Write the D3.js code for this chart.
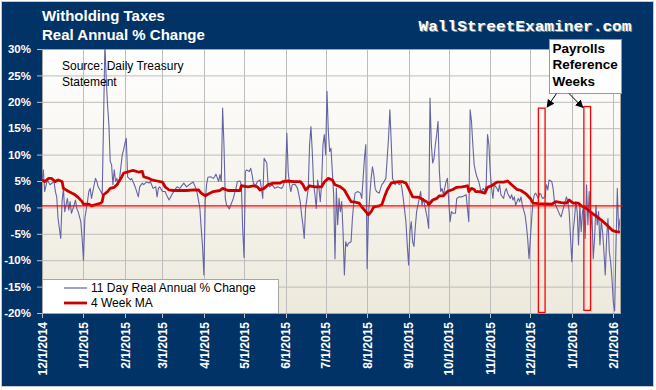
<!DOCTYPE html>
<html lang="en">
<head>
<meta charset="UTF-8">
<title>Witholding Taxes</title>
<script src="https://d3js.org/d3.v7.min.js"></script>
<style>
  body { margin: 0; background: #fff; }
  svg text { font-family: Arial, "Liberation Sans", sans-serif; }
</style>
</head>
<body>
<svg width="656" height="390"></svg>
<script>
// 11 day real annual % change (daily)
const dailyDates = [
  '12/1/2014','12/2/2014','12/3/2014','12/5/2014','12/7/2014','12/10/2014','12/11/2014','12/12/2014','12/13/2014','12/15/2014',
  '12/16/2014','12/17/2014','12/18/2014','12/20/2014','12/21/2014','12/22/2014','12/23/2014','12/25/2014','12/26/2014','12/27/2014',
  '12/28/2014','12/30/2014','12/31/2014','1/1/2015','1/2/2015','1/3/2015','1/4/2015','1/5/2015','1/6/2015','1/7/2015',
  '1/9/2015','1/10/2015','1/11/2015','1/12/2015','1/14/2015','1/15/2015','1/16/2015','1/17/2015','1/18/2015','1/19/2015',
  '1/20/2015','1/21/2015','1/22/2015','1/23/2015','1/24/2015','1/25/2015','1/26/2015','1/27/2015','1/28/2015','1/30/2015',
  '1/31/2015','2/1/2015','2/2/2015','2/3/2015','2/5/2015','2/6/2015','2/8/2015','2/9/2015','2/11/2015','2/12/2015',
  '2/14/2015','2/15/2015','2/17/2015','2/19/2015','2/20/2015','2/22/2015','2/24/2015','2/25/2015','2/26/2015','2/27/2015',
  '3/1/2015','3/3/2015','3/4/2015','3/6/2015','3/8/2015','3/11/2015','3/12/2015','3/14/2015','3/17/2015','3/19/2015',
  '3/21/2015','3/24/2015','3/26/2015','3/27/2015','3/29/2015','3/30/2015','3/31/2015','4/1/2015','4/2/2015','4/3/2015',
  '4/4/2015','4/6/2015','4/8/2015','4/9/2015','4/10/2015','4/12/2015','4/13/2015','4/14/2015','4/15/2015','4/16/2015',
  '4/17/2015','4/18/2015','4/19/2015','4/20/2015','4/21/2015','4/23/2015','4/24/2015','4/25/2015','4/26/2015','4/28/2015',
  '4/29/2015','4/30/2015','5/1/2015','5/2/2015','5/3/2015','5/5/2015','5/6/2015','5/7/2015','5/8/2015','5/9/2015',
  '5/10/2015','5/11/2015','5/13/2015','5/14/2015','5/15/2015','5/16/2015','5/18/2015','5/19/2015','5/20/2015','5/22/2015',
  '5/24/2015','5/26/2015','5/29/2015','5/30/2015','6/1/2015','6/2/2015','6/3/2015','6/4/2015','6/5/2015','6/6/2015',
  '6/8/2015','6/10/2015','6/12/2015','6/13/2015','6/14/2015','6/15/2015','6/16/2015','6/18/2015','6/19/2015','6/20/2015',
  '6/21/2015','6/22/2015','6/23/2015','6/24/2015','6/25/2015','6/26/2015','6/27/2015','6/28/2015','6/29/2015','6/30/2015',
  '7/1/2015','7/2/2015','7/3/2015','7/4/2015','7/5/2015','7/6/2015','7/7/2015','7/8/2015','7/9/2015','7/10/2015',
  '7/11/2015','7/12/2015','7/13/2015','7/14/2015','7/15/2015','7/16/2015','7/17/2015','7/18/2015','7/20/2015','7/21/2015',
  '7/22/2015','7/23/2015','7/25/2015','7/27/2015','7/28/2015','7/29/2015','7/30/2015','7/31/2015','8/1/2015','8/2/2015',
  '8/3/2015','8/4/2015','8/5/2015','8/6/2015','8/7/2015','8/8/2015','8/10/2015','8/12/2015','8/13/2015','8/15/2015',
  '8/16/2015','8/17/2015','8/18/2015','8/19/2015','8/20/2015','8/21/2015','8/22/2015','8/23/2015','8/25/2015','8/26/2015',
  '8/27/2015','8/28/2015','8/30/2015','8/31/2015','9/1/2015','9/2/2015','9/3/2015','9/4/2015','9/5/2015','9/6/2015',
  '9/7/2015','9/9/2015','9/10/2015','9/11/2015','9/12/2015','9/14/2015','9/15/2015','9/16/2015','9/17/2015','9/18/2015',
  '9/19/2015','9/20/2015','9/21/2015','9/22/2015','9/23/2015','9/24/2015','9/25/2015','9/26/2015','9/27/2015','9/29/2015',
  '9/30/2015','10/1/2015','10/2/2015','10/3/2015','10/4/2015','10/6/2015','10/7/2015','10/9/2015','10/11/2015','10/14/2015',
  '10/15/2015','10/16/2015','10/17/2015','10/18/2015','10/19/2015','10/20/2015','10/21/2015','10/22/2015','10/23/2015','10/24/2015',
  '10/25/2015','10/27/2015','10/28/2015','10/29/2015','10/30/2015','10/31/2015','11/1/2015','11/2/2015','11/3/2015','11/4/2015',
  '11/6/2015','11/7/2015','11/8/2015','11/9/2015','11/11/2015','11/12/2015','11/13/2015','11/14/2015','11/16/2015','11/17/2015',
  '11/18/2015','11/19/2015','11/20/2015','11/22/2015','11/23/2015','11/24/2015','11/25/2015','11/27/2015','11/28/2015','11/29/2015',
  '11/30/2015','12/2/2015','12/3/2015','12/4/2015','12/5/2015','12/7/2015','12/8/2015','12/9/2015','12/10/2015','12/12/2015',
  '12/13/2015','12/14/2015','12/15/2015','12/17/2015','12/18/2015','12/19/2015','12/20/2015','12/22/2015','12/23/2015','12/24/2015',
  '12/25/2015','12/27/2015','12/28/2015','12/29/2015','12/30/2015','1/1/2016','1/2/2016','1/3/2016','1/4/2016','1/5/2016',
  '1/6/2016','1/7/2016','1/8/2016','1/9/2016','1/10/2016','1/11/2016','1/12/2016','1/13/2016','1/14/2016','1/15/2016',
  '1/16/2016','1/17/2016','1/18/2016','1/19/2016','1/20/2016','1/21/2016','1/22/2016','1/23/2016','1/24/2016','1/25/2016',
  '1/26/2016','1/27/2016','1/28/2016','1/29/2016','1/30/2016','1/31/2016','2/1/2016','2/2/2016','2/3/2016','2/4/2016',
  '2/5/2016','2/6/2016'
];
const dailyValues = [
  4.9, 7.1, 3.0, 5.2, 4.3, 4.9, 3.0, 2.0, -2.1, -5.9,
  1.1, 3.6, -0.8, 1.7, -0.5, 1.1, -1.1, 0.4, 1.4, -0.2,
  -0.8, -2.7, -5.9, -10.0, -2.1, -0.5, 1.1, 3.0, 3.6, 1.7,
  4.3, 5.5, 4.9, 3.9, 3.0, 2.4, 16.3, 31.0, 24.4, 19.4,
  15.6, 8.7, 8.1, 4.3, 7.1, 4.9, 5.5, 4.3, 5.5, 10.0,
  10.9, 12.2, 13.1, 5.8, 5.2, 5.5, 4.3, 3.6, 2.0, 3.9,
  4.6, 4.3, 4.8, 4.6, 4.9, 3.6, 3.9, 2.0, 3.6, 3.9,
  3.0, 3.0, 2.4, 1.4, 2.4, 3.6, 3.9, 3.6, 4.6, 3.9,
  4.3, 4.8, 3.6, 2.7, -0.2, -4.0, -7.4, -12.8, 1.1, 4.3,
  5.7, 5.8, 5.5, 5.8, 6.3, 4.9, 6.2, 4.9, 18.8, 11.9,
  1.7, 0.4, 0.1, -0.3, 0.4, 1.7, 2.7, 3.6, 4.9, 5.0,
  4.3, -4.0, -9.5, 6.8, 7.1, 6.8, 7.4, 6.2, 4.6, 4.3,
  4.3, 4.9, 5.2, 3.6, 1.7, 9.3, 8.4, 4.3, 3.9, 4.3,
  3.6, 3.9, 3.6, 3.9, 5.5, 14.1, 6.8, 4.3, 3.0, 4.3,
  4.4, 3.6, 1.1, -1.4, -3.3, -5.9, -0.2, 3.6, 11.9, 15.3,
  10.6, 4.3, 2.4, -0.2, 5.2, 3.6, 1.1, 4.6, 11.9, 13.8,
  10.0, 22.0, 14.4, 10.6, 11.2, 6.8, 2.4, -9.7, 3.6, -3.3,
  1.7, -0.8, 1.1, -4.6, -12.8, -6.5, -7.4, -6.8, -6.5, -2.1,
  0.8, 2.7, 3.0, 2.7, 1.7, 5.5, 9.3, 11.9, -11.6, -1.4,
  2.4, 5.5, 7.7, 6.2, 3.6, 3.0, 2.7, 4.3, 4.6, 5.5,
  9.3, 13.1, 18.5, 12.5, 5.5, 4.9, 4.3, 4.9, 4.3, 4.9,
  3.6, 1.7, -2.7, -7.1, -10.9, -4.6, -2.7, -6.5, -7.4, -3.7,
  -0.8, 1.7, 3.0, 0.4, 1.7, -0.8, -2.1, -4.0, 20.7, 11.9,
  8.4, 9.3, 11.9, 13.8, 16.3, 6.8, 3.0, 3.6, 2.4, 4.9,
  5.5, 1.1, -2.7, -0.8, -1.1, -1.1, 1.7, 2.0, 2.0, 2.4,
  -0.2, -2.7, 18.5, 16.3, 11.9, 8.1, 6.8, 5.8, 5.2, 4.3,
  3.0, 3.6, 3.0, 4.3, 13.8, 11.9, 6.8, 3.6, 1.7, 4.3,
  3.6, 3.0, 4.3, 2.4, 1.7, 3.0, 3.6, 2.7, 1.7, 2.4,
  1.4, 2.0, 0.4, 1.7, 1.1, 2.0, 0.4, -1.4, -3.3, -5.9,
  -9.7, -2.1, 1.1, 2.4, 2.7, 1.7, 2.7, 2.4, 1.7, 2.0,
  4.3, 3.3, 5.2, 4.9, 3.6, 1.1, 0.4, -0.8, -1.4, -1.8,
  -0.8, 1.1, 2.0, 1.1, -0.8, -10.3, -4.6, -2.1, 1.1, -0.8,
  -7.1, 0.4, -4.6, -0.8, 0.4, -5.9, 4.3, -3.3, 3.0, -4.6,
  -0.8, -9.7, -5.9, 0.4, -3.3, -0.8, -7.1, -2.7, -4.6, -8.4,
  -12.8, -5.9, -2.1, -8.4, -10.3, -13.5, -17.9, -19.6, -7.1, 3.6,
  -4.6, -2.1
];

// 4 week moving average
const maDates = [
  '12/1/2014','12/3/2014','12/6/2014','12/8/2014','12/11/2014','12/13/2014','12/16/2014','12/17/2014','12/21/2014','12/25/2014',
  '12/28/2014','12/31/2014','1/1/2015','1/5/2015','1/7/2015','1/11/2015','1/14/2015','1/15/2015','1/16/2015','1/19/2015',
  '1/21/2015','1/24/2015','1/26/2015','1/29/2015','1/31/2015','2/4/2015','2/7/2015','2/11/2015','2/14/2015','2/15/2015',
  '2/19/2015','2/21/2015','2/25/2015','3/1/2015','3/3/2015','3/6/2015','3/9/2015','3/19/2015','3/25/2015','3/28/2015',
  '3/30/2015','4/2/2015','4/4/2015','4/8/2015','4/13/2015','4/15/2015','4/19/2015','4/28/2015','4/29/2015','5/4/2015',
  '5/8/2015','5/11/2015','5/13/2015','5/16/2015','5/19/2015','5/23/2015','5/28/2015','5/30/2015','6/3/2015','6/7/2015',
  '6/12/2015','6/14/2015','6/16/2015','6/19/2015','6/23/2015','6/28/2015','6/30/2015','7/3/2015','7/6/2015','7/8/2015',
  '7/12/2015','7/15/2015','7/17/2015','7/20/2015','7/23/2015','7/26/2015','7/28/2015','7/31/2015','8/2/2015','8/4/2015',
  '8/6/2015','8/10/2015','8/12/2015','8/14/2015','8/16/2015','8/19/2015','8/22/2015','8/25/2015','8/27/2015','8/30/2015',
  '9/1/2015','9/4/2015','9/9/2015','9/12/2015','9/15/2015','9/16/2015','9/19/2015','9/22/2015','9/24/2015','9/27/2015',
  '9/30/2015','10/4/2015','10/7/2015','10/11/2015','10/15/2015','10/16/2015','10/18/2015','10/20/2015','10/21/2015','10/24/2015',
  '10/28/2015','10/30/2015','11/2/2015','11/6/2015','11/11/2015','11/14/2015','11/17/2015','11/21/2015','11/24/2015','11/28/2015',
  '12/1/2015','12/3/2015','12/7/2015','12/17/2015','12/20/2015','12/24/2015','12/28/2015','12/30/2015','1/2/2016','1/6/2016',
  '1/8/2016','1/12/2016','1/16/2016','1/19/2016','1/23/2016','1/27/2016','1/31/2016','2/3/2016','2/6/2016'
];
const maValues = [
  5.2, 4.9, 5.5, 5.5, 4.9, 5.2, 4.9, 3.6, 3.0, 2.5,
  1.9, 1.1, 0.6, 0.6, 0.3, 0.6, 0.8, 1.1, 2.4, 3.0,
  3.6, 3.8, 4.3, 5.5, 6.5, 6.8, 7.0, 6.7, 6.8, 5.8,
  5.5, 5.2, 5.0, 4.8, 3.9, 3.3, 3.2, 3.2, 3.3, 3.3,
  2.7, 2.2, 2.5, 3.0, 3.2, 3.6, 3.2, 3.2, 4.1, 3.9,
  4.1, 3.9, 3.3, 3.6, 4.3, 4.6, 4.6, 4.9, 5.0, 4.9,
  4.9, 4.3, 3.3, 4.1, 3.9, 3.9, 4.8, 5.5, 5.2, 4.3,
  3.9, 3.3, 2.4, 1.1, 1.0, 0.8, 0.1, -0.8, -1.4, -0.8,
  0.1, 0.3, 0.5, 2.0, 3.3, 4.6, 4.8, 4.9, 4.9, 4.6,
  3.6, 2.0, 1.9, 1.4, 1.0, 0.5, 1.4, 1.7, 2.2, 2.2,
  3.0, 3.4, 3.8, 3.9, 4.1, 3.0, 3.6, 3.4, 3.0, 3.0,
  2.7, 3.8, 4.1, 4.8, 4.8, 5.0, 4.3, 3.4, 3.2, 2.5,
  1.7, 0.8, 0.7, 0.6, 1.1, 0.9, 0.8, 1.4, 0.8, 0.8,
  0.3, -0.2, -1.1, -1.6, -2.4, -3.3, -4.3, -4.6, -4.7
];

const dateRange = ['12/1/2014', '2/6/2016'];
const monthTicks = ['12/1/2014','1/1/2015','2/1/2015','3/1/2015','4/1/2015','5/1/2015','6/1/2015','7/1/2015',
  '8/1/2015','9/1/2015','10/1/2015','11/1/2015','12/1/2015','1/1/2016','2/1/2016'];
const yTicks = [30, 25, 20, 15, 10, 5, 0, -5, -10, -15, -20];

// payrolls reference weeks (highlight boxes)
const refWeekStart = ['12/7/2015', '1/10/2016'];
const refWeekEnd = ['12/12/2015', '1/15/2016'];
const refWeekTop = [18.8, 19.1];
const refWeekBottom = [-19.9, -19.5];

const titleLines = ['Witholding Taxes', 'Real Annual % Change'];
const sourceLines = ['Source: Daily Treasury', 'Statement'];
const seriesNames = ['11 Day Real Annual % Change', '4 Week MA'];
const calloutLines = ['Payrolls', 'Reference', 'Weeks'];
const siteName = 'WallStreetExaminer.com';

const navy = '#023366';
const blueLine = '#6464a4';
const redLine = '#cc0000';

const parse = d3.timeParse('%m/%d/%Y');
const daily = dailyDates.map((d, i) => ({ date: parse(d), value: dailyValues[i] }));
const ma = maDates.map((d, i) => ({ date: parse(d), value: maValues[i] }));

const svg = d3.select('svg');
const width = +svg.attr('width');
const height = +svg.attr('height');
const plot = { left: 42, right: 620, top: 49, bottom: 313 };

const x = d3.scaleTime()
  .domain(dateRange.map(parse))
  .range([plot.left, plot.right]);
const y = d3.scaleLinear()
  .domain([-20, 30])
  .range([plot.bottom, plot.top]);

// background frame
svg.append('rect')
  .attr('x', 1.5).attr('y', 1.5)
  .attr('width', width - 4).attr('height', height - 5)
  .attr('fill', navy)
  .attr('stroke', '#c8c8c8');

const defs = svg.append('defs');
const grad = defs.append('linearGradient')
  .attr('id', 'plotBg').attr('x1', 0).attr('y1', 0).attr('x2', 0).attr('y2', 1);
grad.append('stop').attr('offset', '0%').attr('stop-color', '#ffffff');
grad.append('stop').attr('offset', '100%').attr('stop-color', '#ede9dc');

defs.append('clipPath').attr('id', 'plotClip')
  .append('rect')
  .attr('x', plot.left).attr('y', plot.top)
  .attr('width', plot.right - plot.left).attr('height', plot.bottom - plot.top);

defs.append('marker')
  .attr('id', 'arrowHead')
  .attr('viewBox', '0 0 10 10')
  .attr('refX', 9).attr('refY', 5)
  .attr('markerWidth', 8).attr('markerHeight', 8)
  .attr('markerUnits', 'userSpaceOnUse')
  .attr('orient', 'auto')
  .append('path')
  .attr('d', 'M0,0 L10,5 L0,10 z')
  .attr('fill', '#000');

svg.append('rect')
  .attr('x', plot.left).attr('y', plot.top)
  .attr('width', plot.right - plot.left).attr('height', plot.bottom - plot.top)
  .attr('fill', 'url(#plotBg)');

// gridlines
svg.append('g')
  .selectAll('line.h')
  .data(yTicks)
  .join('line')
  .attr('x1', plot.left).attr('x2', plot.right)
  .attr('y1', d => y(d) + 0.5).attr('y2', d => y(d) + 0.5)
  .attr('stroke', '#bdbdbd');

svg.append('g')
  .selectAll('line.v')
  .data(monthTicks.map(parse))
  .join('line')
  .attr('x1', d => Math.round(x(d)) + 0.5).attr('x2', d => Math.round(x(d)) + 0.5)
  .attr('y1', plot.top).attr('y2', plot.bottom + 5)
  .attr('stroke', '#bdbdbd');

svg.append('rect')
  .attr('x', plot.left + 0.5).attr('y', plot.top + 0.5)
  .attr('width', plot.right - plot.left).attr('height', plot.bottom - plot.top)
  .attr('fill', 'none')
  .attr('stroke', '#a6a6a6');

// y axis
const yAxis = svg.append('g')
  .attr('transform', `translate(${plot.left},0)`)
  .call(d3.axisLeft(y).tickValues(yTicks).tickFormat(d => d + '%').tickSize(5).tickPadding(6));
yAxis.select('.domain').remove();
yAxis.selectAll('line').attr('stroke', '#bdbdbd');
yAxis.selectAll('text')
  .attr('fill', '#fff')
  .style('font-size', '11.5px')
  .style('font-weight', 'bold')
  .style('font-family', 'Arial, "Liberation Sans", sans-serif');

// x axis labels, rotated
const xAxis = svg.append('g')
  .attr('transform', `translate(0,${plot.bottom})`)
  .call(d3.axisBottom(x).tickValues(monthTicks.map(parse)).tickFormat(d3.timeFormat('%-m/%-d/%Y')).tickSize(0));
xAxis.select('.domain').remove();
xAxis.selectAll('text')
  .attr('fill', '#fff')
  .attr('transform', 'rotate(-90)')
  .attr('x', -9).attr('y', 0).attr('dy', '0.35em')
  .attr('text-anchor', 'end')
  .style('font-size', '12px')
  .style('font-weight', 'bold')
  .style('font-family', 'Arial, "Liberation Sans", sans-serif');

// series
const line = d3.line().x(d => x(d.date)).y(d => y(d.value));
const lines = svg.append('g').attr('clip-path', 'url(#plotClip)');
lines.append('path')
  .datum(daily)
  .attr('d', line)
  .attr('fill', 'none')
  .attr('stroke', blueLine)
  .attr('stroke-width', 1.1)
  .attr('stroke-linejoin', 'round');

// zero line
svg.append('line')
  .attr('x1', plot.left).attr('x2', plot.right + 3)
  .attr('y1', y(0) - 1.5).attr('y2', y(0) - 1.5)
  .attr('stroke', '#ff0000')
  .attr('stroke-width', 1.3);

lines.append('path')
  .datum(ma)
  .attr('d', line)
  .attr('fill', 'none')
  .attr('stroke', redLine)
  .attr('stroke-width', 2.8)
  .attr('stroke-linejoin', 'round');

// reference week boxes
svg.append('g')
  .selectAll('rect')
  .data(refWeekStart.map((d, i) => ({ start: parse(d), end: parse(refWeekEnd[i]), top: refWeekTop[i], bottom: refWeekBottom[i] })))
  .join('rect')
  .attr('x', d => x(d.start))
  .attr('y', d => y(d.top))
  .attr('width', d => x(d.end) - x(d.start))
  .attr('height', d => y(d.bottom) - y(d.top))
  .attr('fill', 'none')
  .attr('stroke', '#ff0000')
  .attr('stroke-width', 1.3);

// callout
const callout = { x: 549.5, y: 39.5, w: 72, h: 54 };
svg.append('rect')
  .attr('x', callout.x).attr('y', callout.y)
  .attr('width', callout.w).attr('height', callout.h)
  .attr('fill', '#fff')
  .attr('stroke', '#9a9a9a');
svg.append('text')
  .attr('x', callout.x + 3).attr('y', callout.y + 13)
  .style('font-size', '13.5px').style('font-weight', 'bold')
  .attr('fill', '#000')
  .selectAll('tspan')
  .data(calloutLines)
  .join('tspan')
  .attr('x', callout.x + 3)
  .attr('dy', (d, i) => i ? 16.7 : 0)
  .text(d => d);

const arrows = [
  { x1: 556.5, y1: callout.y + callout.h, x2: x(parse(refWeekEnd[0])) + 2, y2: y(refWeekTop[0]) - 1 },
  { x1: 569, y1: callout.y + callout.h, x2: x(parse(refWeekStart[1])) - 1, y2: y(refWeekTop[1]) + 1 }
];
svg.append('g')
  .selectAll('line')
  .data(arrows)
  .join('line')
  .attr('x1', d => d.x1).attr('y1', d => d.y1)
  .attr('x2', d => d.x2).attr('y2', d => d.y2)
  .attr('stroke', '#000')
  .attr('stroke-width', 1)
  .attr('marker-end', 'url(#arrowHead)');

// source note
svg.append('text')
  .attr('x', 62).attr('y', 70)
  .style('font-size', '12px')
  .attr('fill', '#000')
  .selectAll('tspan')
  .data(sourceLines)
  .join('tspan')
  .attr('x', 62)
  .attr('dy', (d, i) => i ? 15.7 : 0)
  .text(d => d);

// legend
const legend = svg.append('g');
legend.append('rect')
  .attr('x', plot.left + 0.5).attr('y', 279.5)
  .attr('width', 236).attr('height', plot.bottom - 279)
  .attr('fill', '#fff')
  .attr('stroke', '#a6a6a6');
const legendItems = legend.selectAll('g.item')
  .data(seriesNames)
  .join('g')
  .attr('transform', (d, i) => `translate(64,${288 + i * 15})`);
legendItems.append('line')
  .attr('x1', 0).attr('x2', 23)
  .attr('stroke', (d, i) => i ? redLine : blueLine)
  .attr('stroke-width', (d, i) => i ? 2.8 : 1.2);
legendItems.append('text')
  .attr('x', 27).attr('dy', '0.36em')
  .style('font-size', '12px')
  .attr('fill', '#000')
  .text(d => d);

// title
svg.append('text')
  .attr('x', 42).attr('y', 21)
  .attr('fill', '#fff')
  .style('font-size', '15px').style('font-weight', 'bold')
  .selectAll('tspan')
  .data(titleLines)
  .join('tspan')
  .attr('x', 42)
  .attr('dy', (d, i) => i ? 19 : 0)
  .text(d => d);

// site name
const site = svg.append('g');
site.append('text')
  .attr('x', 419.5).attr('y', 31.5)
  .attr('fill', '#8a8a8a')
  .attr('textLength', 213).attr('lengthAdjust', 'spacingAndGlyphs')
  .style('font-family', '"Liberation Mono", "DejaVu Sans Mono", monospace')
  .style('font-size', '15px').style('font-weight', 'bold')
  .text(siteName);
site.append('text')
  .attr('x', 418.5).attr('y', 30.5)
  .attr('fill', '#fff')
  .attr('textLength', 213).attr('lengthAdjust', 'spacingAndGlyphs')
  .style('font-family', '"Liberation Mono", "DejaVu Sans Mono", monospace')
  .style('font-size', '15px').style('font-weight', 'bold')
  .text(siteName);
</script>
</body>
</html>
